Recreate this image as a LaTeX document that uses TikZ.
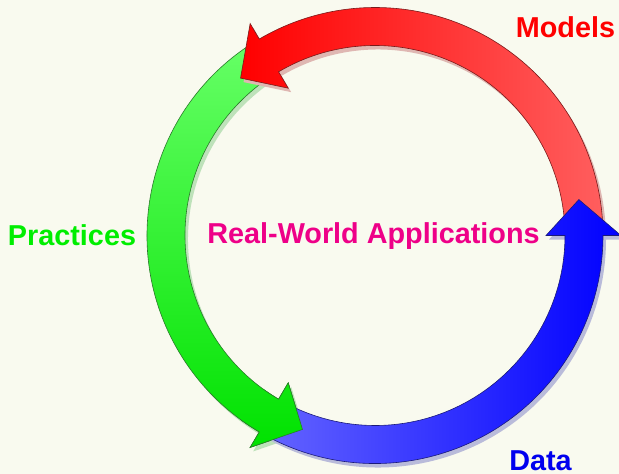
\documentclass[tikz,border=0pt]{standalone}
\usepackage{fontspec}
\setmainfont{Liberation Sans}
\begin{document}
% One ring segment with a straight head: tail at angle #1, head base at #2
\newcommand\ringarrow[2]{(#1:228pt) arc[start angle=#1,end angle=#2,radius=228pt]
  -- (#2:246pt) -- ({#2+10}:207pt) -- (#2:171pt) -- (#2:190pt)
  arc[start angle=#2,end angle=#1,radius=190pt] -- cycle}
\begin{tikzpicture}[x=1pt,y=1pt,
  label/.style={font=\bfseries\fontsize{28.8}{30}\selectfont, anchor=base, inner sep=0pt},
  rimline/.style={line width=0.6pt, line join=miter}]
\definecolor{bg}{HTML}{F9FAEF}
\definecolor{redA}{HTML}{FF0000}
\definecolor{redB}{HTML}{FF5E5E}
\definecolor{redS}{HTML}{DFB7B2}
\definecolor{redL}{HTML}{7A1A1A}
\definecolor{greenA}{HTML}{66FF66}
\definecolor{greenB}{HTML}{00E200}
\definecolor{greenS}{HTML}{BEE2BA}
\definecolor{greenL}{HTML}{2A7A2A}
\definecolor{blueA}{HTML}{6464FF}
\definecolor{blueB}{HTML}{0000FF}
\definecolor{blueS}{HTML}{B9BBDA}
\definecolor{blueL}{HTML}{1A1A7A}
\definecolor{txtModels}{HTML}{FF0000}
\definecolor{txtPractices}{HTML}{00EE00}
\definecolor{txtApps}{HTML}{EE0088}
\definecolor{txtData}{HTML}{0000EE}

\fill[bg] (0,0) rectangle (619,-474);
\useasboundingbox (0,0) rectangle (619,-474);

\begin{scope}[shift={(375,-235.5)}]
  % Practices (green), left side, pointing down
  \fill[greenS, shift={(3,-4)}] \ringarrow{122.5}{239.5};
  \draw[rimline, draw=greenL, top color=greenA, bottom color=greenB] \ringarrow{122.5}{239.5};
  % Models (red), top, pointing left
  \fill[redS, shift={(3,-4)}] \ringarrow{2}{120.5};
  \draw[rimline, draw=redL, left color=redA, right color=redB] \ringarrow{2}{120.5};
  % Data (blue), bottom, pointing up
  \fill[blueS, shift={(3,-4)}] \ringarrow{241.5}{360};
  \draw[rimline, draw=blueL, left color=blueA, right color=blueB] \ringarrow{241.5}{360};
  % green head lies over the blue tail
  \begin{scope}
    \clip (0,0) -- (234:300pt) arc[start angle=234,end angle=256,radius=300pt] -- cycle;
    \draw[rimline, draw=greenL, top color=greenA, bottom color=greenB] \ringarrow{122.5}{239.5};
  \end{scope}
\end{scope}

\node[label, text=txtModels] (models) at (565.5,-37) {Models};
\node[label, text=txtPractices] (practices) at (72,-245) {Practices};
\node[label, text=txtApps] (apps) at (373.5,-243) {Real-World Applications};
\node[label, text=txtData] (data) at (540.5,-470) {Data};
\end{tikzpicture}
\end{document}
